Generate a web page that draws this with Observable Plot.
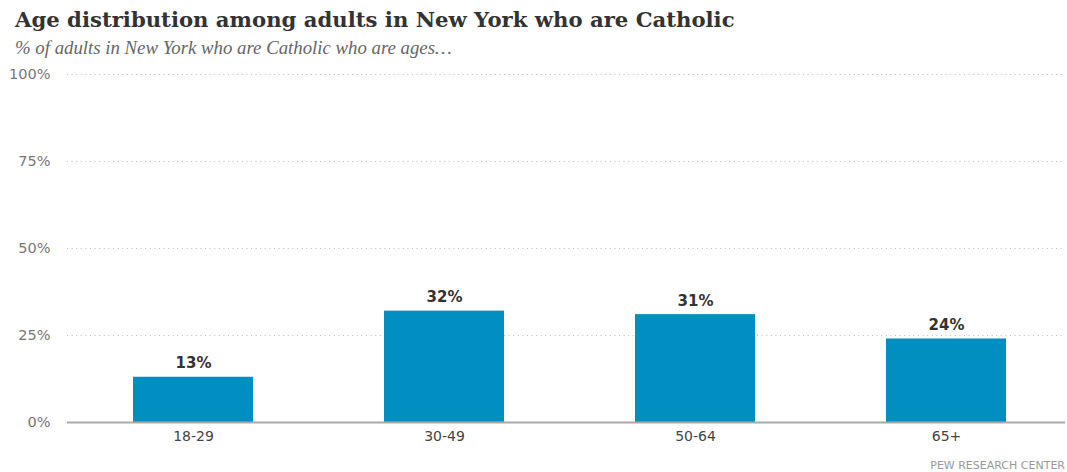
<!DOCTYPE html>
<html>
<head>
<meta charset="utf-8">
<script src="https://cdn.jsdelivr.net/npm/d3@7"></script>
<script src="https://cdn.jsdelivr.net/npm/@observablehq/plot@0.6"></script>
<style>
  html, body { margin: 0; padding: 0; background: #fff; width: 1067px; height: 472px; overflow: hidden; position: relative; }
  #title { position: absolute; left: 15px; top: 9px; font-family: "DejaVu Serif", serif; font-weight: bold; font-size: 21.2px; line-height: 1; color: #333; white-space: nowrap; }
  #subtitle { position: absolute; left: 15px; top: 39px; font-family: "Liberation Serif", serif; font-style: italic; font-size: 18.8px; line-height: 1; color: #666; white-space: nowrap; }
  #chart { position: absolute; left: 0; top: 60px; }
  #caption { position: absolute; right: 2px; top: 460px; font-family: "DejaVu Sans", sans-serif; font-size: 11px; line-height: 1; color: #999; white-space: nowrap; }
</style>
</head>
<body>
<div id="title">Age distribution among adults in New York who are Catholic</div>
<div id="subtitle">% of adults in New York who are Catholic who are ages…</div>
<div id="chart"></div>
<div id="caption">PEW RESEARCH CENTER</div>
<script>
const ages = ["18-29", "30-49", "50-64", "65+"];
const shares = [13, 32, 31, 24];
const yTicks = [0, 25, 50, 75, 100];

const data = ages.map((a, i) => ({age: a, share: shares[i]}));

const chart = Plot.plot({
  width: 1067,
  height: 400,
  marginTop: 14,
  marginBottom: 38,
  marginLeft: 67,
  marginRight: 2,
  style: {fontFamily: "DejaVu Sans, sans-serif", background: "#fff"},
  x: {domain: ages, range: [66, 1073], paddingInner: 0.523, paddingOuter: 0.262},
  y: {domain: [0, 100]},
  marks: [
    Plot.gridY(yTicks.filter(d => d > 0), {stroke: "#bbb", strokeOpacity: 1, strokeDasharray: "1,3.6"}),
    Plot.axisY(yTicks, {tickSize: 0, tickPadding: 17, tickFormat: d => d + "%", fontSize: 14.5, fill: "#777", label: null}),
    Plot.axisX({tickSize: 0, tickPadding: 9, fontSize: 14, fill: "#444", label: null}),
    Plot.barY(data, {x: "age", y: "share", fill: "#008fc0"}),
    Plot.ruleY([0], {stroke: "#aaa", strokeWidth: 2}),
    Plot.text(data, {x: "age", y: "share", text: d => d.share + "%", dy: -9, lineAnchor: "bottom", fontSize: 15, fontWeight: "bold", fill: "#333"})
  ]
});
document.getElementById("chart").appendChild(chart);
</script>
</body>
</html>
